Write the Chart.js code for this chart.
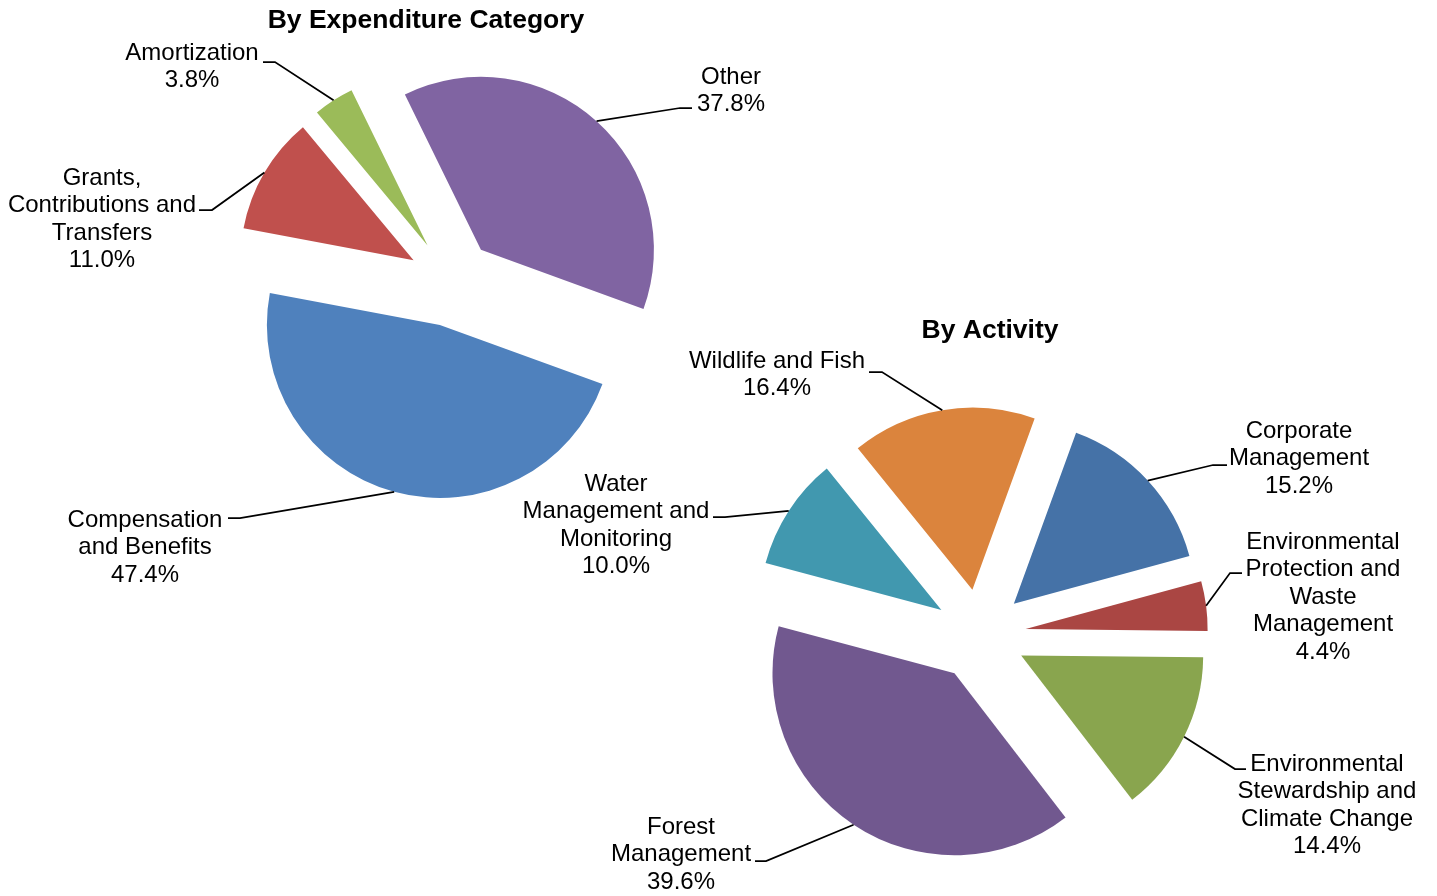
<!DOCTYPE html>
<html>
<head>
<meta charset="utf-8">
<script src="https://cdn.jsdelivr.net/npm/chart.js@4.4.0/dist/chart.umd.min.js"></script>
<style>
body{margin:0;background:#fff;}
#wrap{position:relative;width:1437px;height:896px;overflow:hidden}
canvas{position:absolute;left:0;top:0}
</style>
</head>
<body>
<div id="wrap">
<canvas id="gasto" width="1437" height="896"></canvas>
<canvas id="actividad" width="1437" height="896"></canvas>
</div>
<script>
// By Expenditure Category
const categoriasGasto=[['Compensation','and Benefits'],['Grants,','Contributions and','Transfers'],['Amortization'],['Other']]
const valoresGasto=[47.4,11.0,3.8,37.8]
const coloresGasto=['#4F81BD','#C0504D','#9BBB59','#8064A2']

// By Activity
const categoriasActividad=[['Corporate','Management'],['Environmental','Protection and','Waste','Management'],['Environmental','Stewardship and','Climate Change'],['Forest','Management'],['Water','Management and','Monitoring'],['Wildlife and Fish']]
const valoresActividad=[15.2,4.4,14.4,39.6,10.0,16.4]
const coloresActividad=['#4572A7','#AA4643','#89A54E','#71588F','#4198AF','#DB843D']

const fuente='"Liberation Sans", Arial, sans-serif'

// separa las porciones y dibuja las etiquetas con su linea guia
const explotar={
    id:'explotar',
    beforeDatasetsDraw(chart,args,opts){
        const ctx=chart.ctx
        const meta=chart.getDatasetMeta(0)
        meta.data.forEach((arc)=>{
            const mid=(arc.startAngle+arc.endAngle)/2
            ctx.save()
            ctx.translate(Math.cos(mid)*opts.distancia,Math.sin(mid)*opts.distancia)
            arc.draw(ctx)
            ctx.restore()
        })
        return false
    },
    afterDraw(chart,args,opts){
        const ctx=chart.ctx
        const meta=chart.getDatasetMeta(0)
        const etiquetas=chart.data.labels
        const valores=chart.data.datasets[0].data

        ctx.save()
        ctx.fillStyle='#000'
        ctx.textAlign='center'
        ctx.textBaseline='middle'
        ctx.font='bold 26.5px '+fuente
        ctx.fillText(opts.titulo.texto,opts.titulo.x,opts.titulo.y+2)

        meta.data.forEach((arc,i)=>{
            const mid=(arc.startAngle+arc.endAngle)/2
            const r=arc.outerRadius+opts.distancia
            const px=arc.x+Math.cos(mid)*r
            const py=arc.y+Math.sin(mid)*r
            const pos=opts.etiquetas[i]

            ctx.strokeStyle='#000'
            ctx.lineWidth=1.75
            ctx.beginPath()
            ctx.moveTo(px,py)
            ctx.lineTo(pos.codo[0],pos.codo[1])
            ctx.lineTo(pos.fin[0],pos.fin[1])
            ctx.stroke()

            const lineas=etiquetas[i].concat([valores[i].toFixed(1)+'%'])
            ctx.font='24px '+fuente
            lineas.forEach((t,k)=>{
                ctx.fillText(t,pos.x,pos.y+2+k*27.6)
            })
        })
        ctx.restore()
    }
}

function grafico(id,categorias,valores,colores,radio,rotacion,padding,distancia,titulo,etiquetas){
    const ctx=document.getElementById(id)
    return new Chart(ctx,{
        type:'pie',
        data:{
            labels:categorias,
            datasets:[{
                data:valores,
                backgroundColor:colores,
                borderWidth:0,
                radius:radio
            }]
        },
        options:{
            responsive:false,
            animation:false,
            events:[],
            rotation:rotacion,
            layout:{padding:padding},
            plugins:{
                legend:{display:false},
                tooltip:{enabled:false},
                explotar:{distancia:distancia,titulo:titulo,etiquetas:etiquetas}
            }
        },
        plugins:[explotar]
    })
}

grafico('gasto',categoriasGasto,valoresGasto,coloresGasto,173,110,
    {left:0,right:534,top:0,bottom:331},44,
    {texto:'By Expenditure Category',x:426,y:19},
    [
        {x:145,y:518,codo:[240,518],fin:[228,518]},
        {x:102,y:176,codo:[212,210],fin:[199,210]},
        {x:192,y:51,codo:[275,62],fin:[263,62]},
        {x:731,y:75,codo:[680,108],fin:[692,108]}
    ])

grafico('actividad',categoriasActividad,valoresActividad,coloresActividad,182,20,
    {left:523,right:0,top:374,bottom:0},46,
    {texto:'By Activity',x:990,y:329},
    [
        {x:1299,y:429,codo:[1213,465],fin:[1227,465]},
        {x:1323,y:540,codo:[1230,573],fin:[1242,573]},
        {x:1327,y:762,codo:[1235,769],fin:[1246,769]},
        {x:681,y:825,codo:[766,861],fin:[755,861]},
        {x:616,y:482,codo:[725,517],fin:[713,517]},
        {x:777,y:359,codo:[882,372],fin:[869,372]}
    ])
</script>
</body>
</html>
